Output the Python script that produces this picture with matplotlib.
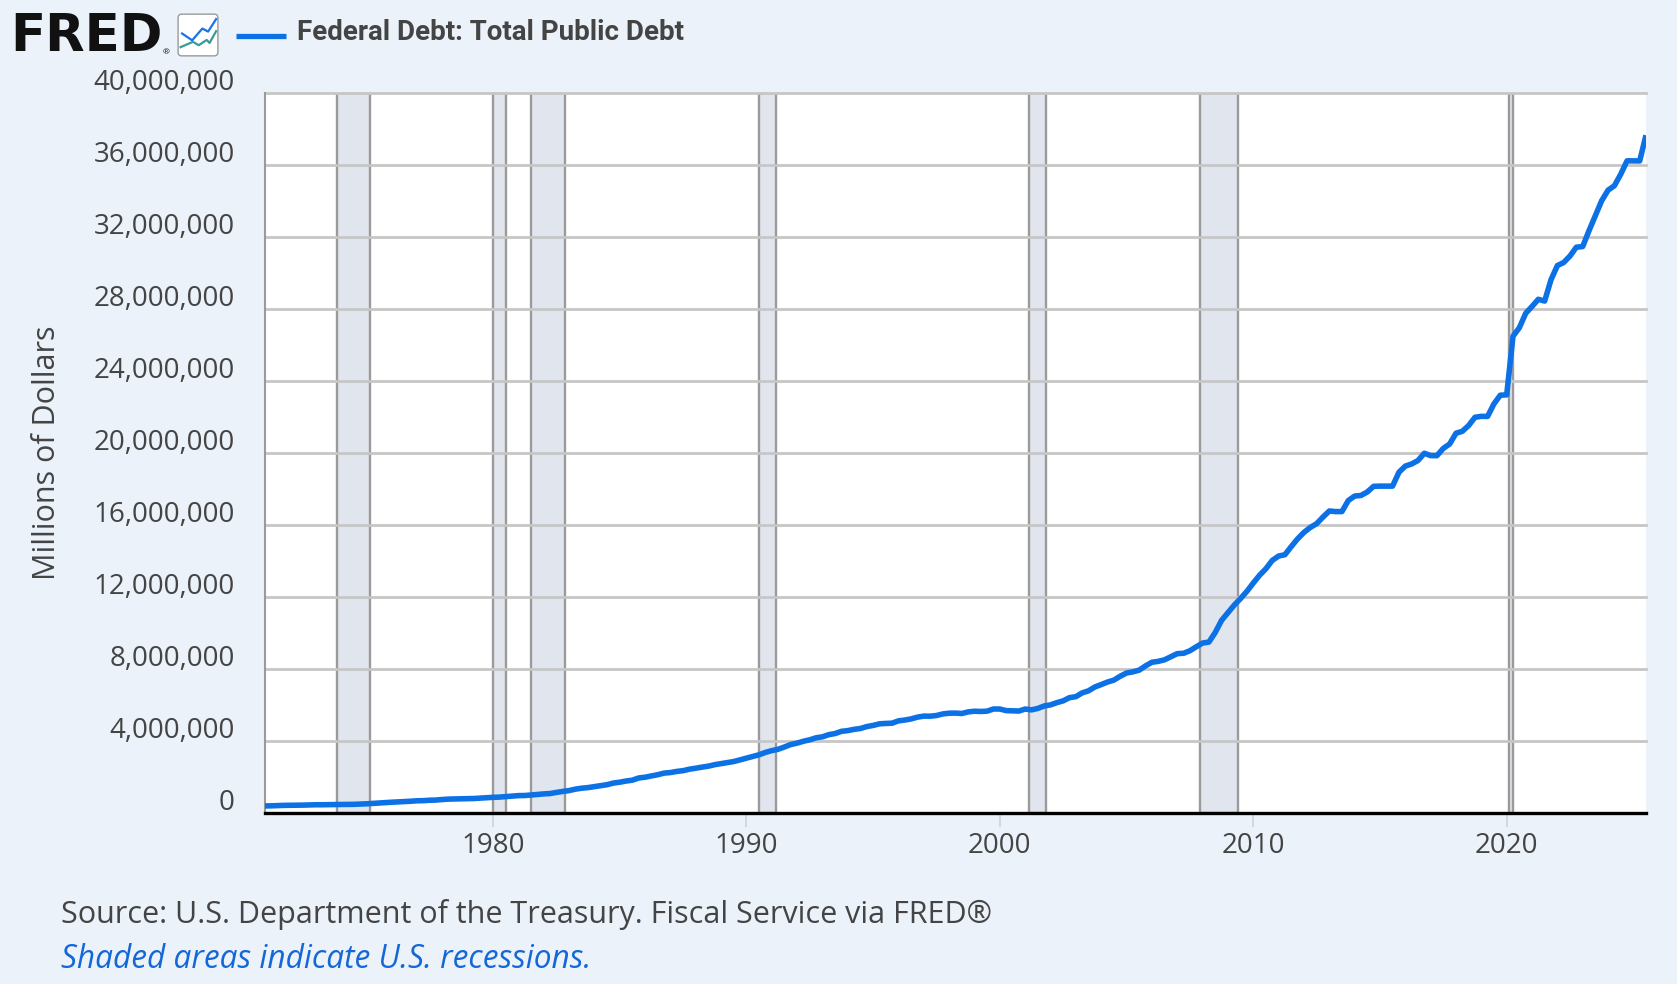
import matplotlib.pyplot as plt
import matplotlib.dates as mdates
from matplotlib.ticker import FuncFormatter
from matplotlib.transforms import ScaledTranslation
from matplotlib.patches import FancyBboxPatch
import numpy as np
import pandas as pd

# Federal Debt: Total Public Debt, quarterly, billions of dollars (1971Q1 .. 2025Q3)
debt_bn = [
    391, 398, 414, 424,          # 1971
    428, 427, 437, 449,          # 1972
    458, 458, 465, 470,          # 1973
    474, 475, 481, 493,          # 1974
    510, 533, 554, 577,          # 1975
    599, 620, 635, 653,          # 1976
    680, 685, 709, 719,          # 1977
    749, 772, 780, 789,          # 1978
    797, 805, 827, 845,          # 1979
    870, 883, 909, 930,          # 1980
    965, 971, 998, 1029,         # 1981
    1061, 1080, 1142, 1197,      # 1982
    1245, 1324, 1377, 1411,      # 1983
    1464, 1517, 1572, 1663,      # 1984
    1711, 1775, 1823, 1946,      # 1985
    1987, 2059, 2125, 2215,      # 1986
    2247, 2309, 2350, 2432,      # 1987
    2487, 2548, 2602, 2684,      # 1988
    2740, 2800, 2857, 2953,      # 1989
    3052, 3144, 3233, 3365,      # 1990
    3465, 3538, 3665, 3802,      # 1991
    3881, 3985, 4065, 4177,      # 1992
    4231, 4352, 4412, 4536,      # 1993
    4576, 4646, 4693, 4800,      # 1994
    4864, 4951, 4974, 4989,      # 1995
    5118, 5161, 5225, 5323,      # 1996
    5381, 5376, 5413, 5502,      # 1997
    5542, 5548, 5526, 5614,      # 1998
    5652, 5639, 5656, 5776,      # 1999
    5773, 5686, 5674, 5662,      # 2000
    5774, 5727, 5807, 5943,      # 2001
    6006, 6127, 6228, 6406,      # 2002
    6461, 6670, 6783, 6998,      # 2003
    7131, 7274, 7379, 7596,      # 2004
    7777, 7837, 7933, 8170,      # 2005
    8371, 8420, 8507, 8680,      # 2006
    8850, 8868, 9008, 9229,      # 2007
    9438, 9492, 10025, 10700,    # 2008
    11127, 11545, 11910, 12311,  # 2009
    12773, 13202, 13562, 14025,  # 2010
    14270, 14343, 14790, 15223,  # 2011
    15582, 15856, 16066, 16433,  # 2012
    16772, 16738, 16738, 17352,  # 2013
    17601, 17633, 17824, 18141,  # 2014
    18152, 18152, 18151, 18922,  # 2015
    19265, 19382, 19573, 19977,  # 2016
    19846, 19845, 20245, 20493,  # 2017
    21090, 21195, 21516, 21974,  # 2018
    22028, 22023, 22719, 23201,  # 2019
    23220, 26477, 26945, 27748,  # 2020
    28133, 28529, 28428, 29617,  # 2021
    30401, 30568, 30929, 31420,  # 2022
    31458, 32333, 33167, 34001,  # 2023
    34587, 34832, 35465, 36218,  # 2024
    36215, 36211, 37637,         # 2025
]
start_quarter = '1971-01-01'

# NBER recessions (peak, trough)
recessions = [
    ('1973-11-01', '1975-03-01'),
    ('1980-01-01', '1980-07-01'),
    ('1981-07-01', '1982-11-01'),
    ('1990-07-01', '1991-03-01'),
    ('2001-03-01', '2001-11-01'),
    ('2007-12-01', '2009-06-01'),
    ('2020-02-01', '2020-04-01'),
]

series_name = 'Federal Debt: Total Public Debt'
y_label = 'Millions of Dollars'
source_note = 'Source: U.S. Department of the Treasury. Fiscal Service via FRED®'
shade_note = 'Shaded areas indicate U.S. recessions.'

# icon sparkline shapes (box coordinates)
icon_blue_x = [0.06, 0.34, 0.62, 0.78, 1.0]
icon_blue_y = [0.54, 0.36, 0.67, 0.59, 0.92]
icon_teal_x = [0.02, 0.36, 0.52, 0.74, 0.82, 1.0]
icon_teal_y = [0.18, 0.32, 0.23, 0.37, 0.29, 0.60]

BG = '#ebf2fa'
BLUE = '#0d71e6'
TXT = '#444444'

plt.rcParams['font.family'] = ['Open Sans', 'DejaVu Sans']

W, H = 1677, 984
fig = plt.figure(figsize=(W / 100, H / 100), dpi=100, facecolor=BG)
ax = fig.add_axes([265 / W, 1 - 813 / H, (1646 - 265) / W, (813 - 92.7) / H])
ax.set_facecolor('white')

dates = pd.date_range(start_quarter, periods=len(debt_bn), freq='QS')
debt = np.array(debt_bn) * 1000  # millions of dollars

for s, e in recessions:
    ax.axvspan(pd.Timestamp(s), pd.Timestamp(e), facecolor='#e1e6ee',
               edgecolor='#9a9a9a', lw=1.7, zorder=0.3)

ax.plot(dates, debt, color=BLUE, lw=4, solid_joinstyle='round',
        solid_capstyle='butt', zorder=3)

ax.set_xlim(dates[0], dates[-1])
ax.set_ylim(0, 40e6)
ax.set_yticks(np.arange(0, 40e6 + 1, 4e6))
ax.yaxis.set_major_formatter(FuncFormatter(lambda v, p: f'{v:,.0f}'))
ax.xaxis.set_major_locator(mdates.YearLocator(10))
ax.xaxis.set_major_formatter(mdates.DateFormatter('%Y'))

ax.set_axisbelow(True)
ax.grid(axis='y', color='#c6c6c6', lw=2)
for gl in ax.get_ygridlines():
    gl.set_clip_on(False)

for side in ('top', 'right'):
    ax.spines[side].set_visible(False)
ax.spines['bottom'].set_color('black')
ax.spines['bottom'].set_linewidth(2.4)
ax.spines['bottom'].set_zorder(4)
ax.spines['left'].set_color('#9a9a9a')
ax.spines['left'].set_linewidth(1.5)

ax.tick_params(axis='y', length=0, pad=21.6, labelsize=20, labelcolor=TXT)
ax.tick_params(axis='x', length=10, width=1.2, color='#c9d5e5', pad=4,
               labelsize=20, labelcolor=TXT)
lift = ScaledTranslation(0, 2.7 / 100, fig.dpi_scale_trans)
for lbl in ax.get_yticklabels():
    lbl.set_va('baseline')
    lbl.set_transform(lbl.get_transform() + lift)

ax.set_ylabel(y_label, fontsize=22, color=TXT)
ax.yaxis.set_label_coords((47 - 265) / (1646 - 265), 0.5)
ax.yaxis.label.set_va('center')

# header: logo, icon and series legend
fig.text(10 / W, 1 - 37 / H, 'FRED', family='DejaVu Sans', fontweight='bold',
         fontsize=37, color='#111111', va='center', ha='left')
fig.text(163 / W, 1 - 53 / H, '®', fontsize=6, color='#111111',
         va='center', ha='left')

icon = fig.add_axes([177 / W, 1 - 57 / H, 42 / W, 44 / H])
icon.set_xlim(-0.08, 1.08)
icon.set_ylim(-0.08, 1.08)
icon.axis('off')
icon.add_patch(FancyBboxPatch((-0.05, -0.05), 1.1, 1.1,
                              boxstyle='round,pad=0,rounding_size=0.1',
                              facecolor='white', edgecolor='#9a9a9a', lw=1))
icon.plot(icon_blue_x, icon_blue_y, color='#1a73e8', lw=1.6)
icon.plot(icon_teal_x, icon_teal_y, color='#3d9a9b', lw=1.6)

fig.add_artist(plt.Line2D([236 / W, 286 / W], [1 - 35.5 / H, 1 - 35.5 / H],
                          color=BLUE, lw=3.8, solid_capstyle='butt'))
fig.text(296.7 / W, 1 - 33 / H, series_name,
         family=['Liberation Sans Narrow', 'Roboto'], fontweight='bold',
         fontsize=20, color=TXT, va='center', ha='left')

# footer notes
fig.text(61 / W, 1 - 914 / H, source_note, fontsize=22, color=TXT,
         va='center', ha='left')
fig.text(61 / W, 1 - 960 / H, shade_note, fontsize=22.8, color='#1467d6',
         style='italic', va='center', ha='left')

fig.savefig('out.png', dpi=100, facecolor=BG)
